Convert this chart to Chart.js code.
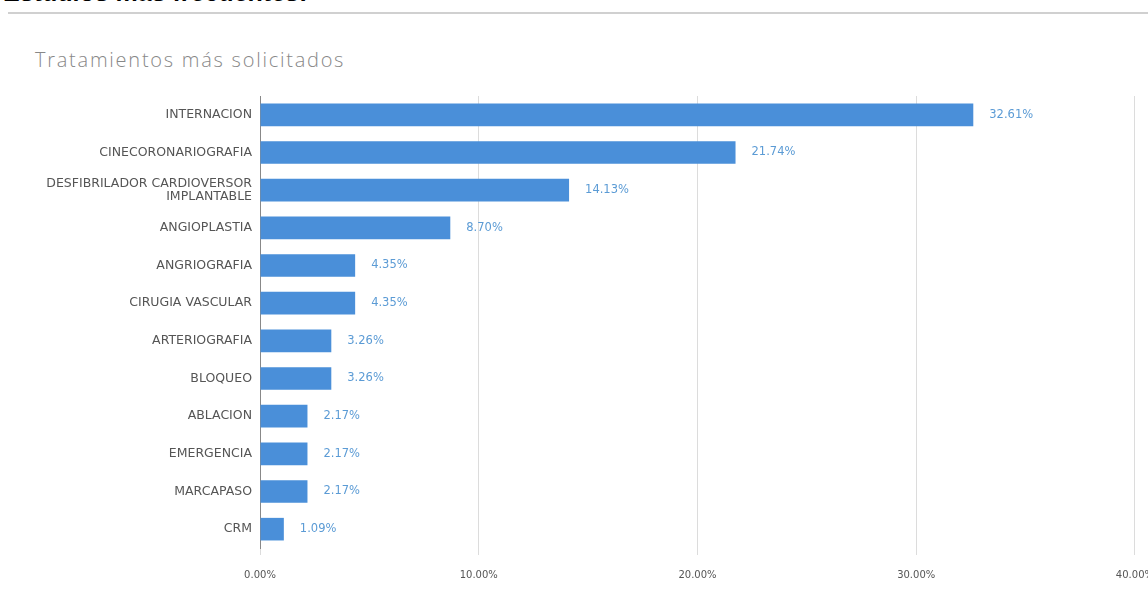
<!DOCTYPE html>
<html>
<head>
<meta charset="utf-8">
<script src="https://cdn.jsdelivr.net/npm/chart.js@4.4.1/dist/chart.umd.min.js"></script>
<style>
    html, body { margin: 0; padding: 0; background: #fff; overflow: hidden; width: 1148px; height: 596px; }
    #heading { position: absolute; top: -21px; left: 3px; font: bold 25px/26px "Liberation Sans", Arial, sans-serif; color: #000; white-space: nowrap; }
    #rule { position: absolute; top: 12px; left: 8px; right: 0; height: 2px; background: #d0d0d0; }
    #title { position: absolute; top: 46px; left: 35px; font: 300 20px "Open Sans", sans-serif; letter-spacing: 1.75px; color: #888; white-space: nowrap; }
    #chart { position: absolute; top: 20px; left: 0; }
</style>
</head>
<body>
<div id="heading">Estudios más frecuentes:</div>
<div id="rule"></div>
<div id="title">Tratamientos más solicitados</div>
<canvas id="chart" width="1168" height="576"></canvas>
<script>
// Data
const categories = [
    'INTERNACION',
    'CINECORONARIOGRAFIA',
    ['DESFIBRILADOR CARDIOVERSOR', 'IMPLANTABLE'],
    'ANGIOPLASTIA',
    'ANGRIOGRAFIA',
    'CIRUGIA VASCULAR',
    'ARTERIOGRAFIA',
    'BLOQUEO',
    'ABLACION',
    'EMERGENCIA',
    'MARCAPASO',
    'CRM'
];
const percentages = [32.61, 21.74, 14.13, 8.70, 4.35, 4.35, 3.26, 3.26, 2.17, 2.17, 2.17, 1.09];
const axisMax = 40;
const axisStep = 10;

// Draw the value next to each bar
const valueLabels = {
    id: 'valueLabels',
    afterDatasetsDraw(chart) {
        const ctx = chart.ctx;
        const meta = chart.getDatasetMeta(0);
        ctx.save();
        ctx.font = '11.5px "DejaVu Sans", sans-serif';
        ctx.fillStyle = '#5b9bd5';
        ctx.textAlign = 'left';
        ctx.textBaseline = 'middle';
        meta.data.forEach((bar, i) => {
            ctx.fillText(percentages[i].toFixed(2) + '%', bar.x + 16, bar.y);
        });
        ctx.restore();
    }
};

const ctx = document.getElementById('chart').getContext('2d');
new Chart(ctx, {
    type: 'bar',
    data: {
        labels: categories,
        datasets: [{
            label: 'Tratamientos',
            data: percentages,
            backgroundColor: '#4a8fd9',
            barPercentage: 0.6,
            categoryPercentage: 1.0
        }]
    },
    options: {
        indexAxis: 'y',
        responsive: false,
        animation: false,
        layout: { padding: { left: 35, right: 0, top: 76, bottom: 1 } },
        plugins: {
            legend: { display: false },
            tooltip: { enabled: false }
        },
        scales: {
            x: {
                min: 0,
                max: axisMax,
                ticks: {
                    stepSize: axisStep,
                    color: '#555',
                    padding: 14,
                    font: { family: '"DejaVu Sans", sans-serif', size: 10 },
                    callback: v => v.toFixed(2) + '%'
                },
                grid: { color: '#dcdcdc', tickLength: 7, tickColor: '#dcdcdc' },
                border: { display: false }
            },
            y: {
                afterFit(scale) { scale.width = 225; },
                ticks: {
                    color: '#555',
                    padding: 8,
                    font: { family: '"DejaVu Sans", sans-serif', size: 12.5, lineHeight: 1.0 }
                },
                grid: { display: false, drawTicks: false },
                border: { display: true, color: '#888' }
            }
        }
    },
    plugins: [valueLabels]
});
</script>
</body>
</html>
